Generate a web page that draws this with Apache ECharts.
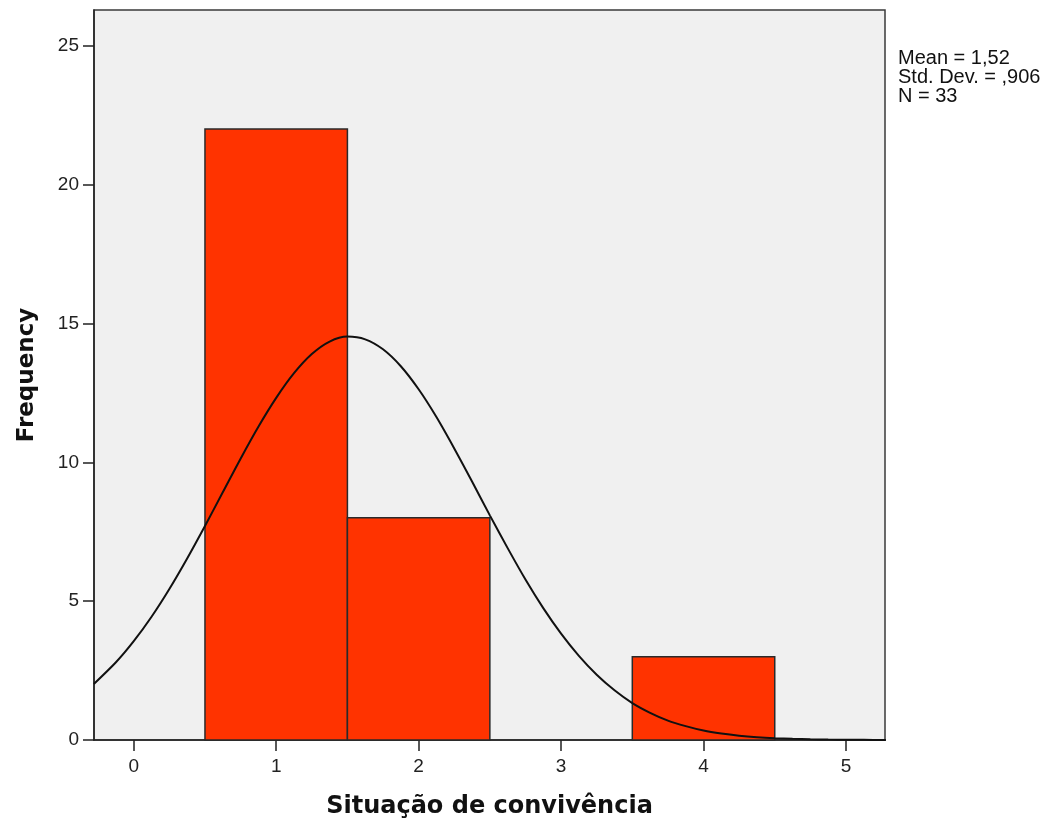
<!DOCTYPE html>
<html><head><meta charset="utf-8">
<script src="https://cdn.jsdelivr.net/npm/echarts@6/dist/echarts.min.js"></script>
<style>html,body{margin:0;padding:0;background:#fff}#c{width:1051px;height:824px}</style>
</head><body><div id="c"></div>
<script>
// Histogram bins (lower edge, upper edge, frequency)
const binLower = [0.5, 1.5, 3.5];
const binUpper = [1.5, 2.5, 4.5];
const frequency = [22, 8, 3];
// Normal curve (x, frequency)
const curveX = [-0.28, -0.125, 0, 0.125, 0.25, 0.375, 0.5, 0.625, 0.75, 0.875, 1.0, 1.125, 1.25, 1.375, 1.5, 1.625, 1.75, 1.875, 2.0, 2.125, 2.25, 2.375, 2.5, 2.625, 2.75, 2.875, 3.0, 3.125, 3.25, 3.375, 3.5, 3.625, 3.75, 3.875, 4.0, 4.125, 4.25, 4.375, 4.5, 4.625, 4.75, 4.875, 5.0, 5.125, 5.28];
const curveY = [2.02, 2.80, 3.56, 4.44, 5.44, 6.54, 7.71, 8.92, 10.13, 11.28, 12.32, 13.21, 13.90, 14.35, 14.53, 14.43, 14.07, 13.46, 12.63, 11.63, 10.50, 9.31, 8.09, 6.91, 5.78, 4.75, 3.83, 3.03, 2.35, 1.79, 1.33, 0.98, 0.70, 0.50, 0.34, 0.233, 0.155, 0.101, 0.065, 0.041, 0.025, 0.015, 0.009, 0.005, 0.002];
const xTicks = [0, 1, 2, 3, 4, 5];
const statsLines = ['Mean = 1,52', 'Std. Dev. = ,906', 'N = 33'];

const chart = echarts.init(document.getElementById('c'));
const barData = binLower.map((lo, i) => [lo, binUpper[i], frequency[i]]);
const curveData = curveX.map((x, i) => [x, curveY[i]]);

chart.setOption({
  animation: false,
  backgroundColor: '#ffffff',
  grid: {
    left: 94, right: 166, top: 10, bottom: 83,
    show: true, backgroundColor: '#f0f0f0', borderColor: '#3a3a3a', borderWidth: 1.5
  },
  xAxis: {
    type: 'value', min: -0.279, max: 5.274,
    name: 'Situação de convivência', nameLocation: 'middle', nameGap: 55,
    nameTextStyle: { fontFamily: 'DejaVu Sans', fontWeight: 'bold', fontSize: 24, color: '#111' },
    axisLine: { show: true, onZero: false, lineStyle: { color: '#222', width: 1.5 } },
    axisTick: { show: true, length: 11, customValues: xTicks, lineStyle: { color: '#222', width: 1.5 } },
    axisLabel: { customValues: xTicks, margin: 17, fontFamily: 'Liberation Sans', fontSize: 19, color: '#222' },
    splitLine: { show: false }
  },
  yAxis: {
    type: 'value', min: 0, max: 26.29, interval: 5,
    name: 'Frequency', nameLocation: 'middle', nameGap: 55, nameRotate: 90,
    nameTextStyle: { fontFamily: 'DejaVu Sans', fontWeight: 'bold', fontSize: 23, color: '#111' },
    axisLine: { show: true, onZero: false, lineStyle: { color: '#222', width: 1.5 } },
    axisTick: { show: true, length: 11, lineStyle: { color: '#222', width: 1.5 } },
    axisLabel: { margin: 15, fontFamily: 'Liberation Sans', fontSize: 19, color: '#222',
      showMaxLabel: false },
    splitLine: { show: false }
  },
  graphic: statsLines.map((t, i) => ({
    type: 'text', left: 898, top: 48 + i * 19, z: 10,
    style: { text: t, font: '20px "Liberation Sans"', fill: '#111' }
  })),
  series: [
    {
      type: 'custom', data: barData, z: 2,
      encode: { x: [0, 1], y: 2 },
      renderItem: function (params, api) {
        const p0 = api.coord([api.value(0), 0]);
        const p1 = api.coord([api.value(1), api.value(2)]);
        return {
          type: 'rect',
          shape: { x: p0[0], y: p1[1], width: p1[0] - p0[0], height: p0[1] - p1[1] },
          style: { fill: '#ff3300', stroke: '#2a2a2a', lineWidth: 1.5 }
        };
      }
    },
    {
      type: 'line', data: curveData, smooth: 0.3, showSymbol: false, z: 3,
      lineStyle: { color: '#111', width: 2 }
    }
  ]
});
</script></body></html>
